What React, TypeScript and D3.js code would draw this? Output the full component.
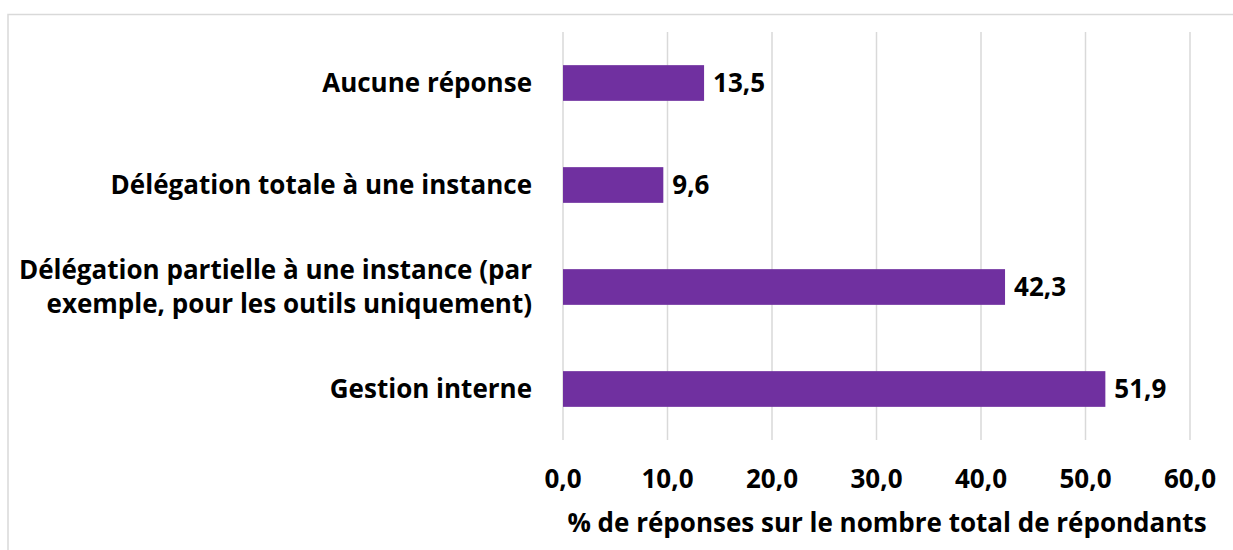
import * as d3 from 'd3';
import * as React from 'react';

const categories: string[][] = [
  ['Aucune réponse'],
  ['Délégation totale à une instance'],
  ['Délégation partielle à une instance (par', 'exemple, pour les outils uniquement)'],
  ['Gestion interne'],
];
const values: number[] = [13.5, 9.6, 42.3, 51.9];
const ticks: number[] = [0, 10, 20, 30, 40, 50, 60];
const axisTitle = '% de réponses sur le nombre total de répondants';

const W = 1233;
const H = 550;
const FONT = '"Open Sans", Lato, sans-serif';
const FS = 26;
const fmt = (v: number) => v.toFixed(1).replace('.', ',');

const App = () => {
  const x = d3.scaleLinear().domain([0, 60]).range([563, 1190]);
  const y = d3.scaleBand<number>()
    .domain(d3.range(categories.length))
    .range([32, 440])
    .paddingInner(0.65)
    .paddingOuter(0.325);

  return (
    <svg width={W} height={H} style={{ position: 'absolute', left: 0, top: 0 }}>
      <rect x={8} y={14.5} width={W + 10} height={H} fill='#fff' stroke='#d9d9d9' strokeWidth={1.5} />
      {ticks.map((t) => (
        <line key={t} x1={x(t)} x2={x(t)} y1={32} y2={440} stroke='#d9d9d9' strokeWidth={1.5} />
      ))}
      {values.map((v, i) => (
        <g key={i}>
          <rect x={x(0)} y={y(i)} width={x(v) - x(0)} height={y.bandwidth()} fill='#7030a0' />
          <text x={x(v) + 9} y={y(i)! + y.bandwidth() / 2} dy='0.35em'
            fontFamily={FONT} fontWeight='bold' fontSize={FS} fill='#000'>{fmt(v)}</text>
        </g>
      ))}
      {categories.map((lines, i) => {
        const cy = y(i)! + y.bandwidth() / 2;
        const lh = 34;
        return (
          <text key={i} textAnchor='end' fontFamily={FONT} fontWeight='bold' fontSize={FS} fill='#000'>
            {lines.map((l, j) => (
              <tspan key={j} x={532} y={cy + (j - (lines.length - 1) / 2) * lh} dy='0.35em'>{l}</tspan>
            ))}
          </text>
        );
      })}
      {ticks.map((t) => (
        <text key={t} x={x(t)} y={479} dy='0.35em' textAnchor='middle'
          fontFamily={FONT} fontWeight='bold' fontSize={FS} fill='#000'>{fmt(t)}</text>
      ))}
      <text x={887} y={523} dy='0.35em' textAnchor='middle'
        fontFamily={FONT} fontWeight='bold' fontSize={FS} fill='#000'>{axisTitle}</text>
    </svg>
  );
};

export default App;
